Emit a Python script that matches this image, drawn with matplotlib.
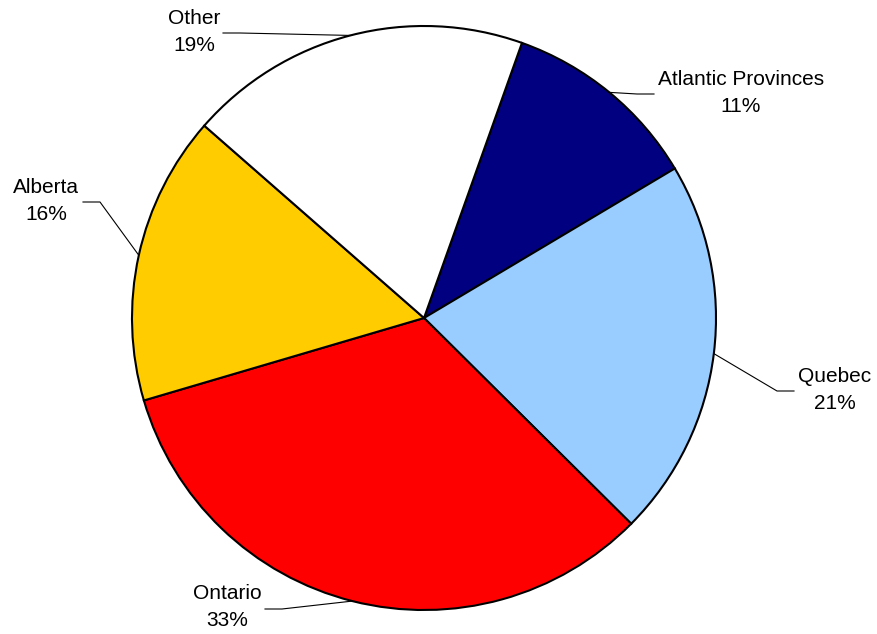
import numpy as np
import matplotlib
matplotlib.use("Agg")
import matplotlib.pyplot as plt

plt.rcParams['font.family'] = ['Liberation Sans', 'DejaVu Sans']

# data
regions = ["Atlantic Provinces", "Quebec", "Ontario", "Alberta", "Other"]
shares = [11, 21, 33, 16, 19]
colors = ["#000080", "#99CCFF", "#FF0000", "#FFCC00", "#FFFFFF"]

# label layout (pixel positions in the 878x634 picture)
cx, cy, R = 424, 318, 292
label_center = {"Atlantic Provinces": (741, 93), "Quebec": (835, 390),
                "Ontario": (227, 607), "Alberta": (46, 201), "Other": (194, 32)}
label_edge = {"Atlantic Provinces": (654, 94, -1), "Quebec": (794, 391, -1),
              "Ontario": (265, 609, 1), "Alberta": (83, 202, 1), "Other": (223, 33, 1)}


def px(x, y):
    return (x - cx) / R, (cy - y) / R


fig = plt.figure(figsize=(8.78, 6.34), dpi=100)
ax = fig.add_axes([0, 0, 1, 1])
wedges, _ = ax.pie(shares, colors=colors, startangle=70.4, counterclock=False,
                   radius=1.0, center=(0, 0),
                   wedgeprops=dict(edgecolor="black", linewidth=1.5))

total = sum(shares)
for w, name, v in zip(wedges, regions, shares):
    mid = np.deg2rad((w.theta1 + w.theta2) / 2)
    ax_, ay_ = np.cos(mid), np.sin(mid)
    ex, ey, side = label_edge[name]
    x1, y1 = px(ex, ey)
    x2, y2 = px(ex + side * 17, ey)
    ax.plot([x1, x2, ax_], [y1, y2, ay_], color="black", lw=0.8, zorder=0.5)
    tx, ty = px(*label_center[name])
    ax.text(tx, ty, f"{name}\n{round(100 * v / total)}%", ha="center", va="center",
            fontsize=15, linespacing=1.5)

ax.set_xlim(-cx / R, (878 - cx) / R)
ax.set_ylim((cy - 634) / R, cy / R)
ax.set_aspect("equal")
ax.axis("off")

fig.savefig("out.png", dpi=100)
